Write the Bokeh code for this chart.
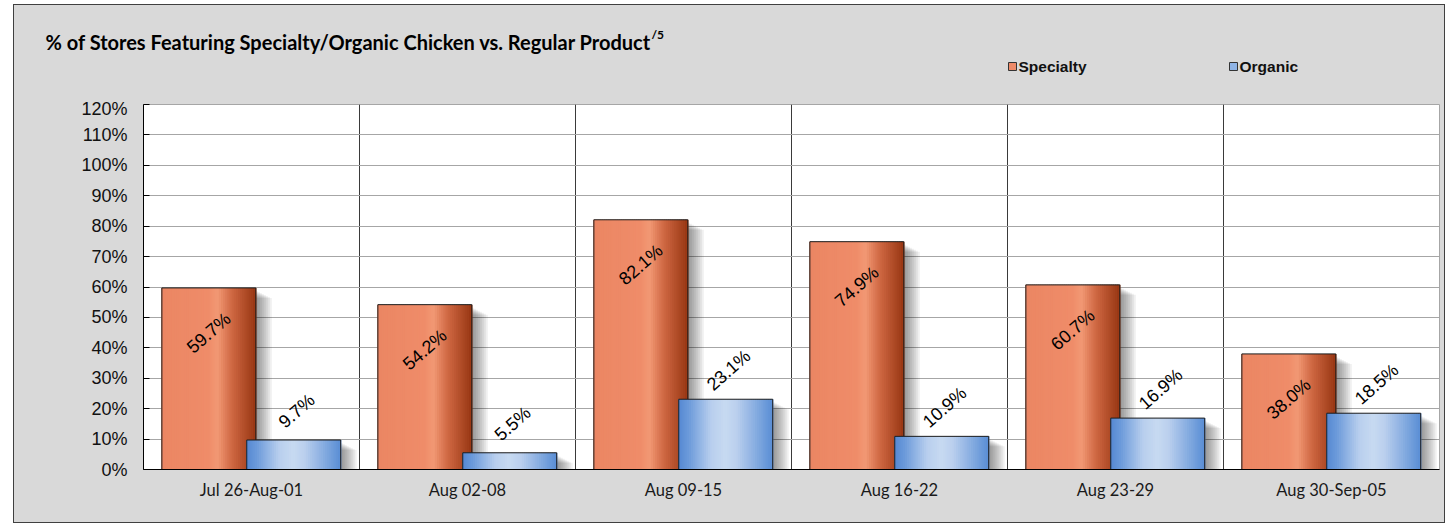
from bokeh.plotting import figure
from bokeh.models import (Range1d, FixedTicker, PrintfTickFormatter, ColumnDataSource)
from bokeh.layouts import column
from bokeh.embed import file_html
from bokeh.resources import INLINE
from bokeh.core.properties import value

# ---------------- data ----------------
weeks = ["Jul 26-Aug-01", "Aug 02-08", "Aug 09-15", "Aug 16-22", "Aug 23-29", "Aug 30-Sep-05"]
specialty = [59.7, 54.2, 82.1, 74.9, 60.7, 38.0]
organic = [9.7, 5.5, 23.1, 10.9, 16.9, 18.5]
y_ticks = [0, 10, 20, 30, 40, 50, 60, 70, 80, 90, 100, 110, 120]
series_names = ["Specialty", "Organic"]
title_text = "% of Stores Featuring Specialty/Organic Chicken vs. Regular Product"
title_sup = "/5"

# ---------------- layout constants ----------------
W = 1430
H1 = 93                      # header (title + legend)
ML, MR, MT, MB = 129, 5, 6, 53
FH = 365
H2 = MT + FH + MB
FW = W - ML - MR
NCAT = len(weeks)
YMAX = 120
UX = NCAT / FW
UY = YMAX / FH

BAR_W = 0.435
OFF_S = 0.3025
OFF_O = 0.6955

legend_colors = ["#EE8A68", "#8FB4E6"]
spec_stops = [(0.0, "#EB8663"), (0.5, "#EF8C69"), (0.6, "#F29874"),
              (0.75, "#CF6843"), (1.0, "#993713")]
org_stops = [(0.0, "#5487D2"), (0.12, "#6E9CDB"), (0.35, "#B8CEEE"),
             (0.5, "#C7DAF1"), (0.62, "#BBD0EE"), (0.85, "#80A8DF"), (1.0, "#5A8ED5")]


def hex2rgb(h):
    h = h.lstrip("#")
    return [int(h[i:i + 2], 16) for i in (0, 2, 4)]


def interp(stops, t):
    for (t0, c0), (t1, c1) in zip(stops[:-1], stops[1:]):
        if t0 <= t <= t1:
            a = 0 if t1 == t0 else (t - t0) / (t1 - t0)
            r0, r1 = hex2rgb(c0), hex2rgb(c1)
            return "#%02x%02x%02x" % tuple(int(round(r0[k] + (r1[k] - r0[k]) * a)) for k in range(3))
    return stops[-1][1]


# ---------------- header figure (title + legend) ----------------
hdr = figure(width=W, height=H1, output_backend="svg", toolbar_location=None,
             x_range=Range1d(0, W), y_range=Range1d(H1, 0),
             x_axis_location=None, y_axis_location=None,
             min_border_left=0, min_border_right=0, min_border_top=0, min_border_bottom=0,
             background_fill_color="#D9D9D9", border_fill_color="#D9D9D9")
hdr.frame_align = False
hdr.grid.visible = False
hdr.outline_line_color = None

hdr.text(x=[31], y=[36], text=[title_text], text_font=value("Lato"), text_font_style="bold",
         text_font_size="20px", text_baseline="middle", text_color="black")
hdr.text(x=[637], y=[29], text=[title_sup], text_font=value("Lato"), text_font_style="bold",
         text_font_size="12px", text_baseline="middle", text_color="black")

leg_x = [998, 1219]
hdr.rect(x=leg_x, y=[61, 61], width=8, height=8, fill_color=legend_colors,
         line_color="#333333", line_width=1)
hdr.text(x=[x + 6 for x in leg_x], y=[61, 61], text=series_names,
         text_font=value("Liberation Sans"), text_font_style="bold",
         text_font_size="15.5px", text_baseline="middle", text_color="#111111")

# ---------------- main chart ----------------
p = figure(width=W, height=H2, output_backend="svg", toolbar_location=None,
           x_range=Range1d(0, NCAT), y_range=Range1d(0, YMAX),
           min_border_left=ML, min_border_right=MR, min_border_top=MT, min_border_bottom=MB,
           background_fill_color="white", border_fill_color="#D9D9D9")
p.frame_align = False
p.outline_line_color = "#A6A6A6"

p.ygrid.ticker = FixedTicker(ticks=y_ticks)
p.ygrid.grid_line_color = "#A6A6A6"
p.xgrid.ticker = FixedTicker(ticks=list(range(1, NCAT)))
p.xgrid.grid_line_color = "#3A3A3A"

p.yaxis.ticker = FixedTicker(ticks=y_ticks)
p.yaxis.formatter = PrintfTickFormatter(format="%d%%")
p.yaxis.major_tick_in = 6
p.yaxis.major_tick_out = 0
p.yaxis.minor_tick_line_color = None
p.yaxis.major_label_standoff = 16
p.yaxis.major_label_text_font = "Liberation Sans"
p.yaxis.major_label_text_font_size = "18px"
p.yaxis.major_label_text_color = "#111111"
p.yaxis.axis_line_color = "black"
p.yaxis.major_tick_line_color = "black"

centers = [i + 0.5 for i in range(NCAT)]
p.xaxis.ticker = FixedTicker(ticks=centers)
p.xaxis.major_label_overrides = {c: w for c, w in zip(centers, weeks)}
p.xaxis.major_tick_in = 0
p.xaxis.major_tick_out = 0
p.xaxis.minor_tick_line_color = None
p.xaxis.major_label_standoff = 10
p.xaxis.major_label_text_font = "Lato"
p.xaxis.major_label_text_font_size = "16.5px"
p.xaxis.major_label_text_color = "#1a1a1a"
p.xaxis.axis_line_color = "black"


def draw_series(vals, off, stops):
    xs = [i + off for i in range(NCAT)]
    sh = dict(left=[], right=[], top=[])
    for k in range(1, 9):
        for x, v in zip(xs, vals):
            sh["left"].append(x - BAR_W / 2 + k * 2 * UX)
            sh["right"].append(x + BAR_W / 2 + k * 2 * UX)
            sh["top"].append(v - (k + 2) * UY)
    p.quad(left="left", right="right", top="top", bottom=0, source=ColumnDataSource(sh),
           fill_color="black", fill_alpha=0.06, line_color=None)
    n = 44
    sw = BAR_W / n
    st = dict(x=[], top=[], color=[])
    for x, v in zip(xs, vals):
        for j in range(n):
            st["x"].append(x - BAR_W / 2 + (j + 0.5) * sw)
            st["top"].append(v)
            st["color"].append(interp(stops, (j + 0.5) / n))
    p.vbar(x="x", top="top", width=sw * 1.6, bottom=0, source=ColumnDataSource(st),
           fill_color="color", line_color=None)
    p.vbar(x=xs, top=vals, width=BAR_W, bottom=0, fill_color=None,
           line_color="#1c1c1c", line_width=1)
    return xs


xs_s = draw_series(specialty, OFF_S, spec_stops)
xs_o = draw_series(organic, OFF_O, org_stops)

p.text(x=xs_s, y=[v - 45 * UY for v in specialty], text=["%.1f%%" % v for v in specialty],
       angle=0.72, text_align="center", text_baseline="middle",
       text_font=value("Liberation Sans"), text_font_size="18px", text_color="black")
p.text(x=[x + 3 * UX for x in xs_o], y=[v + 29 * UY for v in organic],
       text=["%.1f%%" % v for v in organic],
       angle=0.72, text_align="center", text_baseline="middle",
       text_font=value("Liberation Sans"), text_font_size="18px", text_color="black")

root = column(hdr, p, spacing=0,
              styles={"border": "1px solid #404040", "margin-left": "13px", "margin-top": "4px",
                      "background-color": "#D9D9D9"})
open("out.html", "w").write(file_html(root, INLINE))
